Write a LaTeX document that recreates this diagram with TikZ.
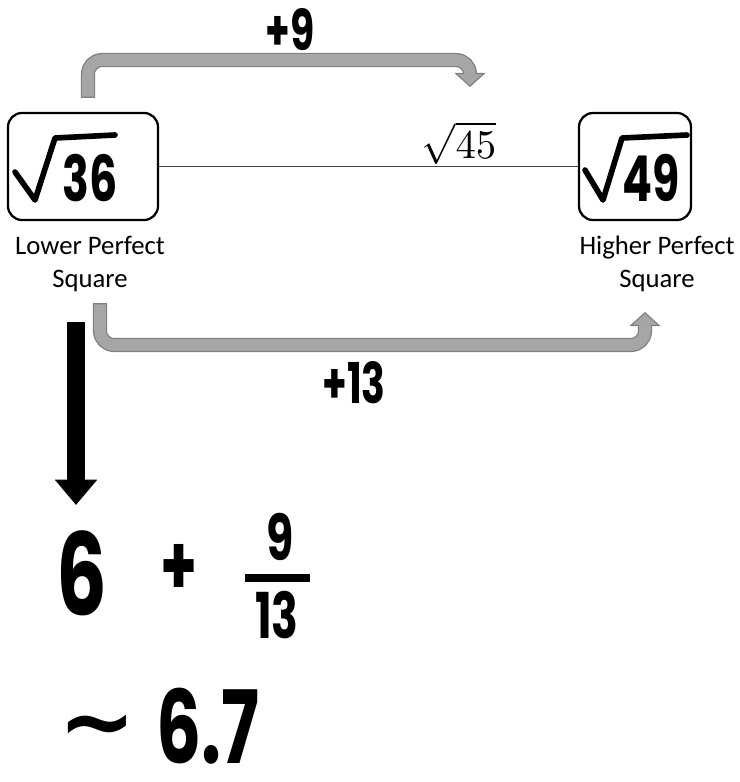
\documentclass[tikz,border=0pt]{standalone}
\usepackage{amsmath}
\usepackage[no-math]{fontspec}
\setmainfont{Carlito}
\newfontfamily\handfont{Poppins}
\newfontfamily\symfont{DejaVu Sans}
\usetikzlibrary{arrows.meta,positioning}

\definecolor{shaftfill}{HTML}{A6A6A6}
\definecolor{shaftedge}{HTML}{7F7F7F}
\newcommand{\hand}[2]{\scalebox{0.7}[1]{\fontsize{#1}{#1}\selectfont\handfont\bfseries #2}}

\begin{document}
\begin{tikzpicture}[x=0.025cm,y=-0.025cm,
    squarebox/.style={draw, line width=1.6pt, rounded corners=10pt, minimum height=2.675cm},
    rootsign/.style={line width=4pt, line cap=round, line join=round},
    smalllbl/.style={align=center, font=\fontsize{19}{23}\selectfont},
    thinline/.style={draw=black!75, line width=0.9pt},
    shaftout/.style={draw=shaftedge, line width=10pt, rounded corners=10pt,
      -{Triangle[width=22pt,length=10pt,line width=0.8pt,fill=shaftfill]}},
    shaftin/.style={draw=shaftfill, line width=8.2pt, rounded corners=10pt, shorten >=9pt, shorten <=0.9pt},
    downarrow/.style={line width=12.5pt, -{Triangle[width=29pt,length=18pt]}},
    fracbar/.style={line width=5pt}]
  \useasboundingbox (0,0) rectangle (739,782);

  % the two perfect squares
  \node[squarebox, minimum width=3.75cm] (lower) at (83,166.5) {};
  \node[squarebox, minimum width=2.8cm] (higher) at (635,166.5) {};
  \node (lowernum) at (90,178) {\hand{45}{36}};
  \draw[rootsign] (15,172) -- (35,200) -- (55,138) -- (115,135);
  \node (highernum) at (651,178) {\hand{45}{49}};
  \draw[rootsign] (585,170) -- (603,200) -- (622,138) -- (687,135);
  \draw[thinline] (lower) -- (higher);
  \node (midval) at (459,143) {\scalebox{2.9}{$\sqrt{45}$}};
  \node[smalllbl] (lowerlbl) at (90,264) {Lower Perfect\\Square};
  \node[smalllbl] (higherlbl) at (657,264) {Higher Perfect\\Square};

  % gaps
  \coordinate (ninefrom) at (88,98);
  \coordinate (nineto) at (470,87);
  \draw[shaftout] (ninefrom) |- (470,60) -- (nineto);
  \draw[shaftin] (ninefrom) |- (470,60) -- (nineto);
  \node (plusnine) at (290,30) {\hand{40}{+9}};
  \coordinate (thirteenfrom) at (100,303);
  \coordinate (thirteento) at (645,312);
  \draw[shaftout] (thirteenfrom) |- (645,345) -- (thirteento);
  \draw[shaftin] (thirteenfrom) |- (645,345) -- (thirteento);
  \node (plusthirteen) at (354,383) {\hand{40}{+13}};

  % estimate
  \coordinate (downfrom) at (76,322);
  \coordinate (downto) at (76,505);
  \draw[downarrow] (downfrom) -- (downto);
  \node (six) at (82,573) {\hand{81}{6}};
  \node (plussign) at (179,570) {\hand{60}{+}};
  \node (numer) at (280,537) {\hand{45}{9}};
  \node (denom) at (277,615) {\hand{45}{13}};
  \draw[fracbar] (245,578) -- (310,578);
  \node[inner sep=0pt] (approx) at (97,734) {\symfont\bfseries\fontsize{66}{66}\selectfont ∼};
  \node[inner sep=0pt] (result) at (208,726) {\hand{72}{6.7}};
\end{tikzpicture}
\end{document}
